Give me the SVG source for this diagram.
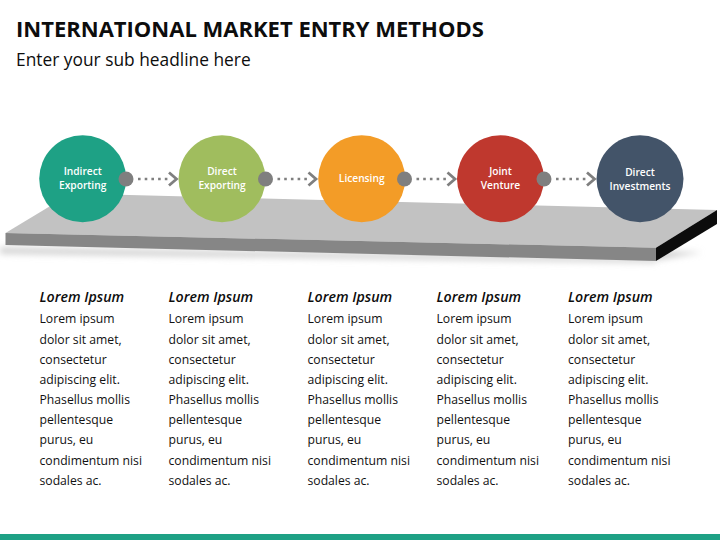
<svg xmlns="http://www.w3.org/2000/svg" width="720" height="540" viewBox="0 0 720 540">
<style>
text{font-family:"Open Sans","Liberation Sans",sans-serif}
.t{font-size:22px;font-weight:700;fill:#0d0d0d}
.s{font-size:17.350px;fill:#0d0d0d}
.n{font-size:10.200px;font-weight:600;fill:#fff;text-anchor:middle}
.h{font-size:14.200px;font-weight:600;font-style:italic;fill:#0d0d0d}
.b{font-size:12.200px;fill:#111}
.dot{fill:#7f7f7f}
.dash{stroke:#7f7f7f;stroke-width:2.6;stroke-dasharray:2.6 4.1;fill:none}
.chev{stroke:#7f7f7f;stroke-width:2.8;fill:none}
</style>
<defs>
<filter id="blur" x="-10%" y="-300%" width="120%" height="700%"><feGaussianBlur stdDeviation="3"/></filter>
</defs>
<rect width="720" height="540" fill="#fff"/>
<text class="t" x="16" y="37">INTERNATIONAL MARKET ENTRY METHODS</text>
<text class="s" x="16" y="66">Enter your sub headline here</text>
<g id="platform">
<polygon points="0,247 656,258 656,263 0,254" fill="#d4d4d4" filter="url(#blur)"/>
<polygon points="656,252 702,252 656,260" fill="#c8c8c8" filter="url(#blur)"/>
<polygon points="5.500,233 71,193.600 717,210 656,247.700" fill="#c2c2c2"/>
<polygon points="5.500,233 656,247.700 656,261 5.500,245" fill="#868686"/>
<polygon points="656,247.700 717,210 717,224 656,261" fill="#0c0c0c"/>
</g>
<g id="connectors">
<g id="c1"><path class="dash" d="M138 179H168"/><path class="chev" d="M169 172.500L176.500 179L169 185.500"/></g>
<g id="c2"><path class="dash" d="M277.500 179H307.500"/><path class="chev" d="M308.500 172.500L316 179L308.500 185.500"/></g>
<g id="c3"><path class="dash" d="M416.500 179H446.500"/><path class="chev" d="M447.500 172.500L455 179L447.500 185.500"/></g>
<g id="c4"><path class="dash" d="M556 179H586"/><path class="chev" d="M587 172.500L594.500 179L587 185.500"/></g>
</g>
<g id="node1"><circle cx="82.700" cy="178.800" r="43.500" fill="#1ea185"/><text class="n" x="82.700" y="175">Indirect</text><text class="n" x="82.700" y="189">Exporting</text></g>
<g id="node2"><circle cx="222" cy="178.800" r="43.500" fill="#a0bd5e"/><text class="n" x="222" y="175">Direct</text><text class="n" x="222" y="189">Exporting</text></g>
<g id="node3"><circle cx="361.700" cy="178.800" r="43.500" fill="#f39c27"/><text class="n" x="361.700" y="182">Licensing</text></g>
<g id="node4"><circle cx="500.500" cy="178.800" r="43.500" fill="#bf382e"/><text class="n" x="500.500" y="175">Joint</text><text class="n" x="500.500" y="189">Venture</text></g>
<g id="node5"><circle cx="640" cy="178.800" r="43.500" fill="#435469"/><text class="n" x="640" y="176">Direct</text><text class="n" x="640" y="190">Investments</text></g>
<circle class="dot" cx="126" cy="179" r="7.500"/>
<circle class="dot" cx="265.500" cy="179" r="7.500"/>
<circle class="dot" cx="404.500" cy="179" r="7.500"/>
<circle class="dot" cx="544" cy="179" r="7.500"/>
<g id="col1"><text class="h" x="39.500" y="301.500">Lorem Ipsum</text><text class="b"><tspan x="39.500" y="323">Lorem ipsum</tspan><tspan x="39.500" y="343.500">dolor sit amet,</tspan><tspan x="39.500" y="363.500">consectetur</tspan><tspan x="39.500" y="383.500">adipiscing elit.</tspan><tspan x="39.500" y="404">Phasellus mollis</tspan><tspan x="39.500" y="424">pellentesque</tspan><tspan x="39.500" y="444">purus, eu</tspan><tspan x="39.500" y="464.500">condimentum nisi</tspan><tspan x="39.500" y="484.500">sodales ac.</tspan></text></g>
<g id="col2"><text class="h" x="168.500" y="301.500">Lorem Ipsum</text><text class="b"><tspan x="168.500" y="323">Lorem ipsum</tspan><tspan x="168.500" y="343.500">dolor sit amet,</tspan><tspan x="168.500" y="363.500">consectetur</tspan><tspan x="168.500" y="383.500">adipiscing elit.</tspan><tspan x="168.500" y="404">Phasellus mollis</tspan><tspan x="168.500" y="424">pellentesque</tspan><tspan x="168.500" y="444">purus, eu</tspan><tspan x="168.500" y="464.500">condimentum nisi</tspan><tspan x="168.500" y="484.500">sodales ac.</tspan></text></g>
<g id="col3"><text class="h" x="307.500" y="301.500">Lorem Ipsum</text><text class="b"><tspan x="307.500" y="323">Lorem ipsum</tspan><tspan x="307.500" y="343.500">dolor sit amet,</tspan><tspan x="307.500" y="363.500">consectetur</tspan><tspan x="307.500" y="383.500">adipiscing elit.</tspan><tspan x="307.500" y="404">Phasellus mollis</tspan><tspan x="307.500" y="424">pellentesque</tspan><tspan x="307.500" y="444">purus, eu</tspan><tspan x="307.500" y="464.500">condimentum nisi</tspan><tspan x="307.500" y="484.500">sodales ac.</tspan></text></g>
<g id="col4"><text class="h" x="436.500" y="301.500">Lorem Ipsum</text><text class="b"><tspan x="436.500" y="323">Lorem ipsum</tspan><tspan x="436.500" y="343.500">dolor sit amet,</tspan><tspan x="436.500" y="363.500">consectetur</tspan><tspan x="436.500" y="383.500">adipiscing elit.</tspan><tspan x="436.500" y="404">Phasellus mollis</tspan><tspan x="436.500" y="424">pellentesque</tspan><tspan x="436.500" y="444">purus, eu</tspan><tspan x="436.500" y="464.500">condimentum nisi</tspan><tspan x="436.500" y="484.500">sodales ac.</tspan></text></g>
<g id="col5"><text class="h" x="568" y="301.500">Lorem Ipsum</text><text class="b"><tspan x="568" y="323">Lorem ipsum</tspan><tspan x="568" y="343.500">dolor sit amet,</tspan><tspan x="568" y="363.500">consectetur</tspan><tspan x="568" y="383.500">adipiscing elit.</tspan><tspan x="568" y="404">Phasellus mollis</tspan><tspan x="568" y="424">pellentesque</tspan><tspan x="568" y="444">purus, eu</tspan><tspan x="568" y="464.500">condimentum nisi</tspan><tspan x="568" y="484.500">sodales ac.</tspan></text></g>
<rect x="0" y="534" width="720" height="6" fill="#1ea185"/>
</svg>
